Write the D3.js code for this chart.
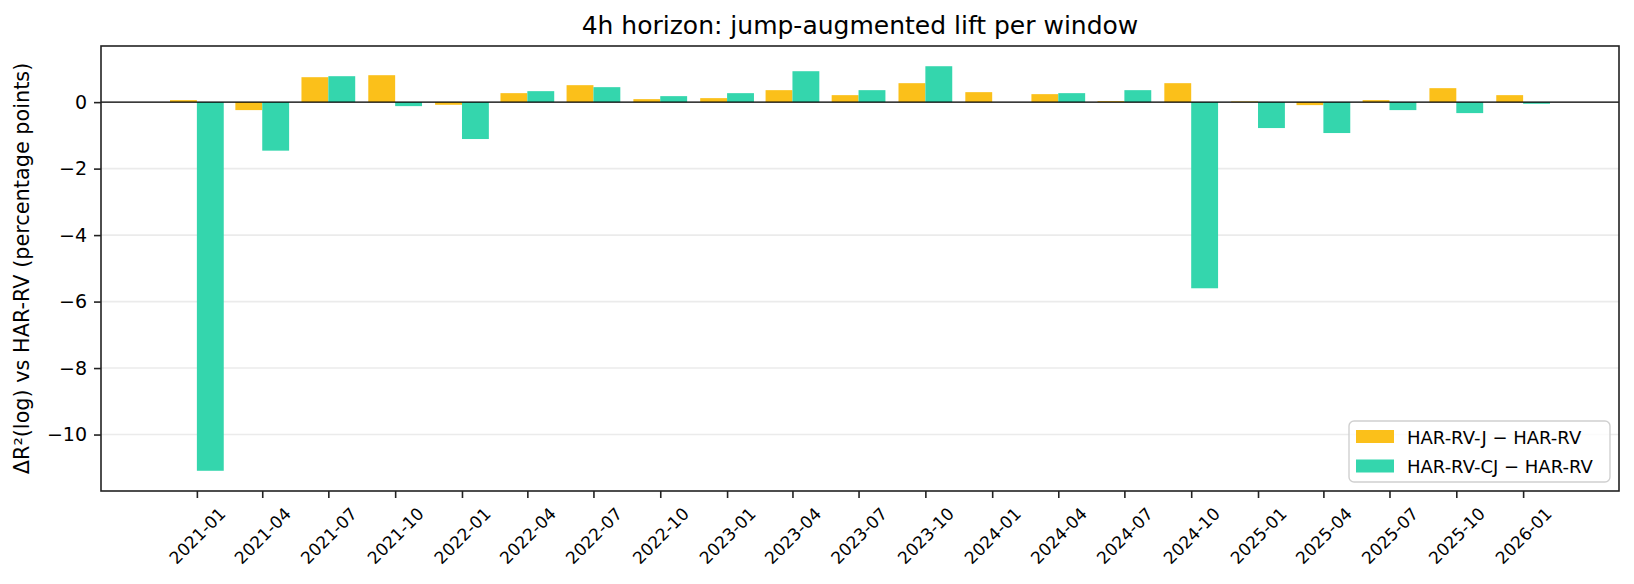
<!DOCTYPE html>
<html>
<head>
<meta charset="utf-8">
<script src="https://cdn.jsdelivr.net/npm/d3@7"></script>
<style>
  body { margin: 0; background: #fff; }
  text { font-family: "DejaVu Sans", sans-serif; fill: #000; }
</style>
</head>
<body>
<div id="bar-chart"></div>
<script>
// quarterly windows, lift in percentage points
let windows = ["2021-01-01", "2021-04-01", "2021-07-01", "2021-10-01",
    "2022-01-01", "2022-04-01", "2022-07-01", "2022-10-01",
    "2023-01-01", "2023-04-01", "2023-07-01", "2023-10-01",
    "2024-01-01", "2024-04-01", "2024-07-01", "2024-10-01",
    "2025-01-01", "2025-04-01", "2025-07-01", "2025-10-01", "2026-01-01"]
let liftJ = [0.06, -0.24, 0.75, 0.81, -0.08, 0.27, 0.51, 0.09, 0.12, 0.36, 0.21,
    0.57, 0.30, 0.24, 0.03, 0.57, 0.02, -0.09, 0.06, 0.42, 0.21]
let liftCJ = [-11.09, -1.46, 0.78, -0.12, -1.11, 0.33, 0.45, 0.18, 0.27, 0.93, 0.36,
    1.08, 0.00, 0.27, 0.36, -5.60, -0.78, -0.93, -0.24, -0.33, -0.05]
let seriesNames = ["HAR-RV-J \u2212 HAR-RV", "HAR-RV-CJ \u2212 HAR-RV"]
let yTicks = [0, -2, -4, -6, -8, -10]
let titleText = "4h horizon: jump-augmented lift per window"
let yLabel = "\u0394R\u00b2(log) vs HAR-RV (percentage points)"

let colors = ["#fbc01a", "#34d6ad"]
let barDays = 37

let margin = {top: 46, right: 15, bottom: 93, left: 101},
    width = 1634 - margin.left - margin.right,
    height = 584 - margin.top - margin.bottom;

let svg = d3.select("#bar-chart")
    .append("svg")
    .attr("width", width + margin.left + margin.right)
    .attr("height", height + margin.top + margin.bottom)

let g = svg.append("g")
    .attr("transform", "translate(" + margin.left + "," + margin.top + ")");

let parseTime = d3.timeParse("%Y-%m-%d")
let data = windows.map((w, i) => ({date: parseTime(w), j: liftJ[i], cj: liftCJ[i]}))

// matplotlib-like 5% padding around the bar extents
let day = 24 * 3600 * 1000
let x0 = d3.min(data, d => d.date).getTime() - barDays * day
let x1 = d3.max(data, d => d.date).getTime() + barDays * day
let xpad = (x1 - x0) * 0.05
let x = d3.scaleTime()
    .domain([new Date(x0 - xpad), new Date(x1 + xpad)])
    .range([0, width])

let allVals = liftJ.concat(liftCJ, [0])
let y0 = d3.min(allVals), y1 = d3.max(allVals)
let ypad = (y1 - y0) * 0.05
let y = d3.scaleLinear()
    .domain([y0 - ypad, y1 + ypad])
    .range([height, 0])

// grid
g.append("g")
    .selectAll("line")
    .data(yTicks)
    .join("line")
    .attr("x1", 0).attr("x2", width)
    .attr("y1", d => y(d)).attr("y2", d => y(d))
    .attr("stroke", "#ebebeb")
    .attr("stroke-width", 1.6)

// bars
let before = d => new Date(d.date.getTime() - barDays * day)
let after = d => new Date(d.date.getTime() + barDays * day)
g.append("g")
    .selectAll("rect")
    .data(data)
    .join("rect")
    .attr("x", d => x(before(d)))
    .attr("width", d => x(d.date) - x(before(d)))
    .attr("y", d => y(Math.max(0, d.j)))
    .attr("height", d => Math.abs(y(d.j) - y(0)))
    .attr("fill", colors[0])
g.append("g")
    .selectAll("rect")
    .data(data)
    .join("rect")
    .attr("x", d => x(d.date))
    .attr("width", d => x(after(d)) - x(d.date))
    .attr("y", d => y(Math.max(0, d.cj)))
    .attr("height", d => Math.abs(y(d.cj) - y(0)))
    .attr("fill", colors[1])

// zero line
g.append("line")
    .attr("x1", 0).attr("x2", width)
    .attr("y1", y(0)).attr("y2", y(0))
    .attr("stroke", "#000")
    .attr("stroke-width", 1.2)

// axes
let yAxis = g.append("g")
    .call(d3.axisLeft(y).tickValues(yTicks).tickSizeOuter(0).tickSize(7).tickPadding(7))
yAxis.selectAll("text").style("font-size", "19px")

let xFont = 17
let xAxis = g.append("g")
    .attr("transform", "translate(0," + height + ")")
    .call(d3.axisBottom(x).tickValues(data.map(d => d.date)).tickFormat(d3.timeFormat("%Y-%m"))
        .tickSizeOuter(0).tickSize(7).tickPadding(7))
// rotated labels, centred under the tick like matplotlib's ha="center"
xAxis.selectAll("text")
    .style("font-size", xFont + "px")
    .attr("text-anchor", "middle")
    .attr("dy", null)
    .attr("y", null)
    .attr("dominant-baseline", "central")
    .attr("transform", function() {
        let w = this.getComputedTextLength()
        let ext = (w + xFont * 0.95) / Math.SQRT2
        return "translate(0," + (14 + ext / 2) + ") rotate(-45)"
    })

g.selectAll(".domain").remove()
g.selectAll(".tick line").attr("stroke", "#222").attr("stroke-width", 1.6)

// frame
g.append("rect")
    .attr("width", width).attr("height", height)
    .attr("fill", "none")
    .attr("stroke", "#222")
    .attr("stroke-width", 1.6)

// title + y label
svg.append("text")
    .attr("x", margin.left + width / 2)
    .attr("y", 34)
    .attr("text-anchor", "middle")
    .style("font-size", "25px")
    .text(titleText)

svg.append("text")
    .attr("transform", "translate(22," + (margin.top + height / 2) + ") rotate(-90)")
    .attr("text-anchor", "middle")
    .attr("dominant-baseline", "central")
    .style("font-size", "20.8px")
    .text(yLabel)

// legend
let legend = g.append("g")
    .attr("transform", "translate(" + (width - 270) + "," + (height - 70) + ")")
legend.append("rect")
    .attr("width", 261).attr("height", 61)
    .attr("rx", 5)
    .attr("fill", "#fff").attr("fill-opacity", 0.8)
    .attr("stroke", "#d0d0d0").attr("stroke-width", 1.4)
seriesNames.forEach(function(name, i) {
    legend.append("rect")
        .attr("x", 7).attr("y", 9 + i * 29.5)
        .attr("width", 38).attr("height", 13)
        .attr("fill", colors[i])
    legend.append("text")
        .attr("x", 58).attr("y", 16 + i * 29.5)
        .attr("dominant-baseline", "central")
        .style("font-size", "18px")
        .text(name)
})
</script>
</body>
</html>
